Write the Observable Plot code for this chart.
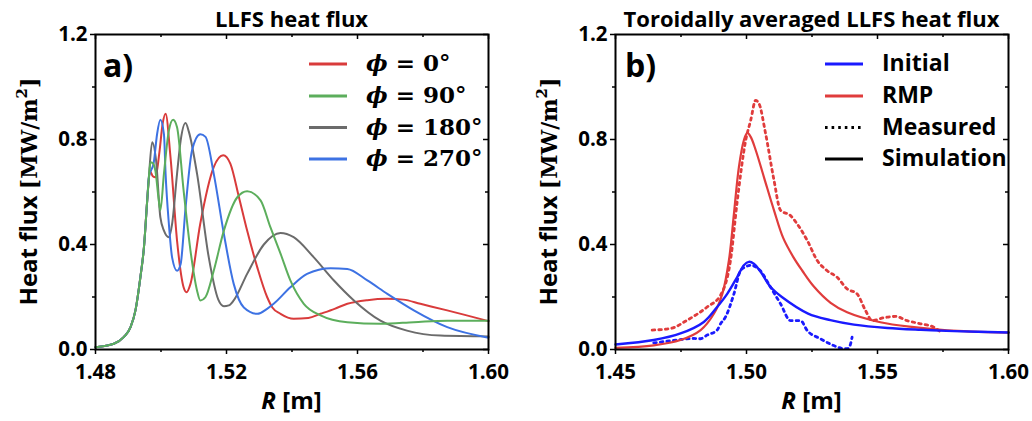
<!DOCTYPE html>
<html><head><meta charset="utf-8">
<script src="https://cdn.jsdelivr.net/npm/d3@7"></script>
<script src="https://cdn.jsdelivr.net/npm/@observablehq/plot@0.6"></script>
<style>
body{margin:0;background:#fff;}
#wrap{position:relative;width:1032px;height:421px;overflow:hidden;background:#fff;}
.panel{position:absolute;top:30px;}
#overlay{position:absolute;left:0;top:0;pointer-events:none;}
</style></head><body>
<div id="wrap"><div id="pa" class="panel" style="left:0"></div><div id="pb" class="panel" style="left:516px"></div><svg id="overlay" width="1032" height="421"></svg></div>
<script>
// ---------- Panel a: LLFS heat flux at four toroidal angles ----------
const rPhi0 = [1.480,1.4856,1.4886,1.4907,1.4922,1.4937,1.4948,1.4958,1.4966,1.4975,1.4983,1.4995,1.5005,1.5014,1.5029,1.5049,1.5069,1.5078,1.509,1.512,1.5161,1.5190,1.5212,1.5238,1.5263,1.5294,1.5324,1.5340,1.5365,1.5405,1.5450,1.5487,1.5530,1.5569,1.5630,1.5691,1.5740,1.5792,1.5874,1.600];
const qPhi0 = [0.009,0.022,0.047,0.085,0.149,0.275,0.39,0.57,0.68,0.66,0.656,0.75,0.86,0.898,0.733,0.415,0.237,0.218,0.25,0.48,0.695,0.74,0.707,0.58,0.453,0.313,0.20,0.16,0.136,0.117,0.12,0.136,0.155,0.174,0.188,0.193,0.19,0.174,0.149,0.108];
const rPhi90 = [1.480,1.4856,1.4886,1.4907,1.4922,1.4937,1.4948,1.4958,1.4963,1.4968,1.4975,1.4983,1.4993,1.4998,1.5009,1.5024,1.5037,1.5049,1.5069,1.509,1.511,1.512,1.5136,1.5161,1.5192,1.5233,1.5263,1.5304,1.5334,1.5365,1.5395,1.5436,1.5487,1.5569,1.567,1.5772,1.5874,1.600];
const qPhi90 = [0.009,0.022,0.047,0.085,0.149,0.275,0.39,0.57,0.656,0.713,0.71,0.68,0.57,0.53,0.67,0.834,0.875,0.847,0.606,0.377,0.225,0.187,0.2,0.30,0.453,0.58,0.603,0.568,0.466,0.365,0.263,0.174,0.13,0.104,0.098,0.104,0.11,0.11];
const rPhi180 = [1.480,1.4856,1.4886,1.4907,1.4922,1.4937,1.4948,1.4958,1.4963,1.4973,1.4985,1.4998,1.5009,1.5024,1.5034,1.5049,1.5060,1.5075,1.5085,1.511,1.5146,1.5175,1.5192,1.5207,1.5222,1.5263,1.5314,1.5365,1.5405,1.5466,1.5528,1.5589,1.567,1.5751,1.5853,1.600];
const qPhi180 = [0.009,0.022,0.047,0.085,0.149,0.275,0.39,0.57,0.656,0.79,0.72,0.504,0.453,0.428,0.479,0.669,0.796,0.863,0.83,0.67,0.35,0.19,0.165,0.168,0.187,0.288,0.40,0.444,0.428,0.352,0.263,0.187,0.11,0.072,0.053,0.05];
const rPhi270 = [1.480,1.4856,1.4886,1.4907,1.4922,1.4937,1.4948,1.4958,1.4963,1.4978,1.4988,1.4998,1.5009,1.5014,1.5024,1.5034,1.5049,1.5060,1.5075,1.5095,1.512,1.5136,1.5161,1.5192,1.5222,1.5253,1.5294,1.5324,1.5344,1.5395,1.5446,1.5518,1.5569,1.563,1.5691,1.5772,1.5874,1.600];
const qPhi270 = [0.009,0.022,0.047,0.085,0.149,0.275,0.39,0.57,0.656,0.713,0.82,0.875,0.82,0.669,0.479,0.35,0.30,0.326,0.54,0.76,0.82,0.81,0.67,0.44,0.25,0.16,0.136,0.155,0.174,0.237,0.288,0.31,0.307,0.263,0.212,0.149,0.085,0.045];
const phiLabels = ["0°","90°","180°","270°"];
const phiColors = ["#d93b3b","#5cae5c","#6b6b6b","#3d72e3"];

// ---------- Panel b: toroidally averaged heat flux ----------
const rInitSim = [1.450,1.4646,1.4748,1.4837,1.4888,1.4927,1.4965,1.4990,1.5009,1.5028,1.5054,1.5092,1.5135,1.5235,1.5320,1.5410,1.5538,1.5665,1.5792,1.600];
const qInitSim = [0.019,0.036,0.061,0.105,0.162,0.213,0.277,0.321,0.334,0.327,0.296,0.238,0.20,0.137,0.112,0.095,0.082,0.075,0.07,0.065];
const rRmpSim = [1.450,1.4646,1.4748,1.4825,1.4876,1.4908,1.4933,1.4952,1.4971,1.4990,1.5003,1.5016,1.5035,1.5067,1.5105,1.5140,1.5180,1.5213,1.5257,1.5321,1.5384,1.5511,1.5639,1.5766,1.600];
const qRmpSim = [0.006,0.016,0.036,0.074,0.137,0.213,0.34,0.517,0.695,0.797,0.825,0.81,0.76,0.655,0.53,0.425,0.35,0.30,0.24,0.178,0.142,0.104,0.085,0.073,0.064];
const rRmpMeas = [1.4640,1.4710,1.4774,1.4850,1.4901,1.4939,1.4965,1.4997,1.5016,1.5035,1.5048,1.5073,1.5104,1.5130,1.5168,1.5193,1.5232,1.5270,1.5308,1.5346,1.5384,1.5422,1.5454,1.5480,1.5524,1.5569,1.5613,1.5664,1.5715,1.5741];
const qRmpMeas = [0.074,0.08,0.112,0.162,0.207,0.34,0.568,0.797,0.873,0.949,0.936,0.822,0.65,0.53,0.51,0.479,0.415,0.339,0.30,0.275,0.231,0.212,0.149,0.11,0.121,0.126,0.11,0.098,0.085,0.066];
const rInitMeas = [1.4646,1.4735,1.4799,1.4824,1.4850,1.4888,1.4901,1.4920,1.4952,1.4977,1.4997,1.5016,1.5035,1.5053,1.5092,1.5130,1.5168,1.5206,1.5232,1.5282,1.5333,1.5366,1.5384,1.5395,1.5403];
const qInitMeas = [0.025,0.036,0.042,0.041,0.055,0.074,0.098,0.124,0.212,0.30,0.315,0.321,0.315,0.30,0.237,0.174,0.11,0.11,0.072,0.041,0.015,0.004,0.003,0.015,0.047];
const caseLabels = ["Initial","RMP","Measured","Simulation"];
const caseColors = ["#1a1aff","#e03c3c","#000000","#000000"];

// ---------- axes ----------
const xMajorA = [1.48,1.52,1.56,1.60];
const xMinorA = [1.50,1.54,1.58];
const xMajorB = [1.45,1.50,1.55,1.60];
const xMinorB = [1.475,1.525,1.575];
const yMajor = [0,0.4,0.8,1.2];
const yMinor = [0.2,0.6,1.0];
const titles = ["LLFS heat flux","Toroidally averaged LLFS heat flux"];
const panelTags = ["a)","b)"];

const rows = (r, q) => r.map((x, i) => ({R: x, q: q[i]}));

const W = 516, H = 391, MT = 4, MB = 72;
function makePanel({xDomain, xMajor, xMinor, marginLeft, marginRight, lines}) {
  const frameW = W - marginLeft - marginRight, frameH = H - MT - MB;
  const tk = {stroke: "black", strokeWidth: 1.5};
  return Plot.plot({
    width: W, height: H, marginLeft, marginRight, marginTop: MT, marginBottom: MB,
    x: {domain: xDomain, label: null},
    y: {domain: [0, 1.2], label: null},
    style: {fontFamily: "'Open Sans', sans-serif", fontSize: "20.5px", fontWeight: "bold", color: "black", background: "transparent", overflow: "visible"},
    marks: [
      ...lines,
      Plot.frame({stroke: "black", strokeWidth: 2}),
      Plot.axisX(xMajor, {tickSize: 5, tickPadding: 10, tickFormat: d => d.toFixed(2), label: null, ...tk}),
      Plot.axisX(xMinor, {tickSize: 3, tickFormat: () => "", label: null, ...tk}),
      Plot.axisY(yMajor, {tickSize: 5, tickPadding: 3, tickFormat: d => d.toFixed(1), label: null, ...tk}),
      Plot.axisY(yMinor, {tickSize: 3, tickFormat: () => "", label: null, ...tk}),
      Plot.tickX(xMajor, {x: d => d, insetBottom: frameH - 5, ...tk}),
      Plot.tickX(xMinor, {x: d => d, insetBottom: frameH - 3, ...tk}),
      Plot.tickY(yMajor, {y: d => d, insetLeft: frameW - 5, ...tk}),
      Plot.tickY(yMinor, {y: d => d, insetLeft: frameW - 3, ...tk})
    ]
  });
}

const seriesA = [[rPhi0,qPhi0,0],[rPhi180,qPhi180,2],[rPhi270,qPhi270,3],[rPhi90,qPhi90,1]];
const plotA = makePanel({
  xDomain: [1.48, 1.60], xMajor: xMajorA, xMinor: xMinorA, marginLeft: 95, marginRight: 28,
  lines: seriesA.map(([r, q, k]) => Plot.line(rows(r, q), {x: "R", y: "q", stroke: phiColors[k], strokeWidth: 2, curve: "monotone-x"}))
});
document.getElementById("pa").appendChild(plotA);

const dots = "2.6,4";
const plotB = makePanel({
  xDomain: [1.45, 1.60], xMajor: xMajorB, xMinor: xMinorB, marginLeft: 99, marginRight: 24,
  lines: [
    Plot.line(rows(rRmpMeas, qRmpMeas), {x: "R", y: "q", stroke: caseColors[1], strokeWidth: 2.8, strokeDasharray: dots, curve: "monotone-x"}),
    Plot.line(rows(rInitMeas, qInitMeas), {x: "R", y: "q", stroke: caseColors[0], strokeWidth: 2.8, strokeDasharray: dots, curve: "monotone-x"}),
    Plot.line(rows(rRmpSim, qRmpSim), {x: "R", y: "q", stroke: caseColors[1], strokeWidth: 2.2, curve: "catmull-rom"}),
    Plot.line(rows(rInitSim, qInitSim), {x: "R", y: "q", stroke: caseColors[0], strokeWidth: 2.4, curve: "catmull-rom"})
  ]
});
document.getElementById("pb").appendChild(plotB);

// ---------- overlay texts & legends ----------
const ov = d3.select("#overlay");
const sans = "'Open Sans', sans-serif", serif = "'DejaVu Serif', serif";
[[291.5, 0], [811.5, 1]].forEach(([cx, i]) => {
  ov.append("text").attr("x", cx).attr("y", 27).attr("text-anchor", "middle")
    .attr("font-family", sans).attr("font-weight", "bold").attr("font-size", 22).text(titles[i]);
  const xl = ov.append("text").attr("x", cx).attr("y", 409).attr("text-anchor", "middle")
    .attr("font-family", sans).attr("font-weight", "bold").attr("font-size", 24);
  xl.append("tspan").attr("font-style", "italic").text("R");
  xl.append("tspan").text(" [m]");
});
[[37, 191.5], [557, 191.5]].forEach(([x, y]) => {
  const t = ov.append("text").attr("x", x).attr("y", y).attr("text-anchor", "middle")
    .attr("transform", `rotate(-90,${x},${y})`).attr("font-weight", "bold").attr("font-size", 24);
  t.append("tspan").attr("font-family", sans).text("Heat flux ");
  t.append("tspan").attr("font-family", serif).attr("font-size", 22).text("[MW/m");
  t.append("tspan").attr("font-family", serif).attr("font-size", 15).attr("dy", -10).text("2");
  t.append("tspan").attr("font-family", serif).attr("font-size", 22).attr("dy", 10).text("]");
});
[[103, 0], [625, 1]].forEach(([x, i]) => {
  ov.append("text").attr("x", x).attr("y", 77).attr("font-family", sans)
    .attr("font-weight", "bold").attr("font-size", 32).text(panelTags[i]);
});
const legY = [64, 96, 127.5, 159];
phiLabels.forEach((lab, i) => {
  ov.append("line").attr("x1", 309).attr("x2", 347).attr("y1", legY[i]).attr("y2", legY[i])
    .attr("stroke", phiColors[i]).attr("stroke-width", 3);
  const t = ov.append("text").attr("x", 366).attr("y", legY[i] + 7).attr("font-family", serif)
    .attr("font-weight", "bold").attr("font-size", 23);
  t.append("tspan").attr("font-style", "italic").text("ϕ");
  t.append("tspan").text(" = " + lab);
});
caseLabels.forEach((lab, i) => {
  ov.append("line").attr("x1", 825).attr("x2", 863).attr("y1", legY[i]).attr("y2", legY[i])
    .attr("stroke", caseColors[i]).attr("stroke-width", 3)
    .attr("stroke-dasharray", lab === "Measured" ? "2.6,4" : null);
  ov.append("text").attr("x", 882).attr("y", legY[i] + 7).attr("font-family", sans)
    .attr("font-weight", "bold").attr("font-size", 23).text(lab);
});
</script>
</body></html>
